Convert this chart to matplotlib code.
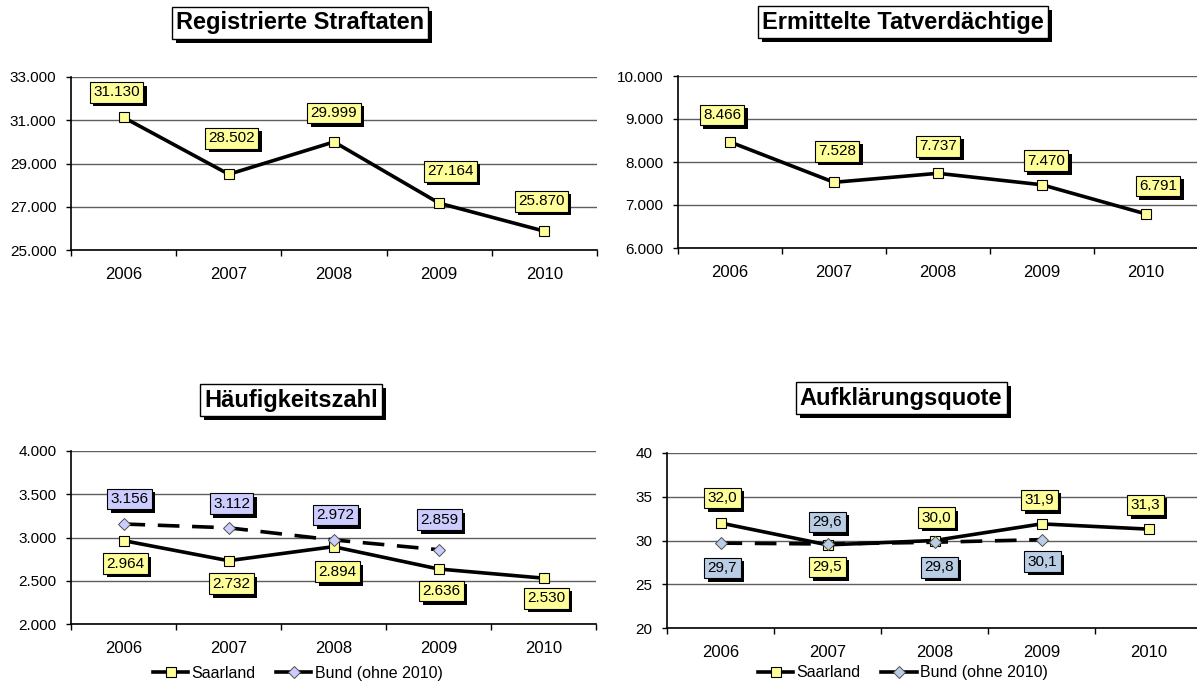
import matplotlib
matplotlib.use("Agg")
import matplotlib.pyplot as plt
import matplotlib.patheffects as pe
from matplotlib.lines import Line2D

plt.rcParams['font.family'] = ['Liberation Sans', 'DejaVu Sans']

years = ['2006', '2007', '2008', '2009', '2010']
straftaten = [31130, 28502, 29999, 27164, 25870]
tatverdaechtige = [8466, 7528, 7737, 7470, 6791]
hz_saarland = [2964, 2732, 2894, 2636, 2530]
hz_bund = [3156, 3112, 2972, 2859]
aq_saarland = [32.0, 29.5, 30.0, 31.9, 31.3]
aq_bund = [29.7, 29.6, 29.8, 30.1]

# label offsets in pixels (dx, dy with dy positive = down)
off_st = [(-7, -25), (3, -36), (0, -29), (11, -32), (-3, -30)]
off_tv = [(-8, -27), (3, -31), (0, -27), (4, -24), (12, -28)]
off_hz_s = [(2, 23), (3, 23), (4, 25), (3, 22), (3, 20)]
off_hz_b = [(6, -25), (3, -24), (2, -25), (1, -30)]
off_aq_s = [(2, -25), (0, 22), (2, -23), (-2, -24), (-3, -24)]
off_aq_b = [(2, 25), (0, -22), (5, 25), (1, 22)]

YELLOW = '#FFFF99'
LAVENDER = '#CCCCFF'
STEEL = '#B9CDE5'

W, H = 1197, 682
fig = plt.figure(figsize=(W / 100, H / 100), dpi=100)


def de_int(v):
    return f"{int(v):,}".replace(",", ".")


def de_dec(v):
    return f"{v:.1f}".replace(".", ",")


def setup(ax, ylim, step, fmt):
    ax.set_xlim(-0.5, 4.5)
    ax.set_ylim(*ylim)
    yt = [ylim[0] + i * step for i in range(int(round((ylim[1] - ylim[0]) / step)) + 1)]
    ax.set_yticks(yt, [fmt(v) for v in yt])
    ax.set_xticks(range(5), years)
    ax.set_xticks([i - 0.5 for i in range(6)], minor=True)
    ax.tick_params(axis='x', which='major', length=0, pad=12, labelsize=12)
    ax.tick_params(axis='x', which='minor', length=4, width=1, direction='out')
    ax.tick_params(axis='y', length=3.5, width=1, pad=7, labelsize=11)
    for s in ['right', 'top']:
        ax.spines[s].set_visible(False)
    for s in ['left', 'bottom']:
        ax.spines[s].set_linewidth(1.2)
    ax.yaxis.grid(True, color='#5e5e5e', linewidth=1)
    ax.set_axisbelow(True)


def label(ax, x, y, text, off, color):
    t = ax.annotate(text, (x, y), xytext=(off[0], -off[1]), textcoords='offset pixels',
                    ha='center', va='center', fontsize=11, zorder=10,
                    bbox=dict(boxstyle='square,pad=0.22', facecolor=color,
                              edgecolor='black', linewidth=0.8))
    t.get_bbox_patch().set_path_effects(
        [pe.SimplePatchShadow(offset=(2.5, -2.5), shadow_rgbFace='black', alpha=1), pe.Normal()])


def title(x, y, text):
    t = fig.text(x / W, 1 - y / H, text, ha='center', va='center', fontsize=17,
                 fontweight='bold',
                 bbox=dict(boxstyle='square,pad=0.18', facecolor='white',
                           edgecolor='black', linewidth=1))
    t.get_bbox_patch().set_path_effects(
        [pe.SimplePatchShadow(offset=(3, -3), shadow_rgbFace='black', alpha=1), pe.Normal()])


def saar_line(ax, vals):
    ax.plot(range(len(vals)), vals, color='black', lw=2.6, marker='s', ms=6.5,
            mfc=YELLOW, mec='black', mew=0.8, zorder=3)


def bund_line(ax, vals, color):
    ax.plot(range(len(vals)), vals, color='black', lw=2.6, ls=(0, (6, 3.5)), marker='D',
            ms=6.5, mfc=color, mec='#505050', mew=0.7, zorder=4)


def legend(ax, color, x, y):
    h = [Line2D([], [], color='black', lw=2.6, marker='s', ms=6.5, mfc=YELLOW, mec='black', mew=0.8),
         Line2D([], [], color='black', lw=2.6, marker='D', ms=6.5, mfc=color, mec='#505050', mew=0.7)]
    ax.legend(h, ['Saarland', 'Bund (ohne 2010)'], loc='center', bbox_to_anchor=(x, y),
              ncol=2, frameon=False, fontsize=11.5, handlelength=2.2, handletextpad=0.2,
              columnspacing=1.3)


# Registrierte Straftaten
ax1 = fig.add_axes([71 / W, 1 - 250 / H, 526 / W, 173 / H])
setup(ax1, (25000, 33000), 2000, de_int)
saar_line(ax1, straftaten)
for i, v in enumerate(straftaten):
    label(ax1, i, v, de_int(v), off_st[i], YELLOW)
title(300, 23, 'Registrierte Straftaten')

# Ermittelte Tatverdächtige
ax2 = fig.add_axes([678 / W, 1 - 248 / H, 520 / W, 172 / H])
setup(ax2, (6000, 10000), 1000, de_int)
saar_line(ax2, tatverdaechtige)
for i, v in enumerate(tatverdaechtige):
    label(ax2, i, v, de_int(v), off_tv[i], YELLOW)
title(903, 22, 'Ermittelte Tatverdächtige')

# Häufigkeitszahl
ax3 = fig.add_axes([71 / W, 1 - 624 / H, 525 / W, 173 / H])
setup(ax3, (2000, 4000), 500, de_int)
saar_line(ax3, hz_saarland)
bund_line(ax3, hz_bund, LAVENDER)
for i, v in enumerate(hz_saarland):
    label(ax3, i, v, de_int(v), off_hz_s[i], YELLOW)
for i, v in enumerate(hz_bund):
    label(ax3, i, v, de_int(v), off_hz_b[i], LAVENDER)
legend(ax3, LAVENDER, 0.432, -0.285)
title(291, 400, 'Häufigkeitszahl')

# Aufklärungsquote
ax4 = fig.add_axes([667 / W, 1 - 628 / H, 535 / W, 175 / H])
setup(ax4, (20, 40), 5, lambda v: str(int(v)))
saar_line(ax4, aq_saarland)
bund_line(ax4, aq_bund, STEEL)
for i, v in enumerate(aq_saarland):
    label(ax4, i, v, de_dec(v), off_aq_s[i], YELLOW)
for i, v in enumerate(aq_bund):
    label(ax4, i, v, de_dec(v), off_aq_b[i], STEEL)
legend(ax4, STEEL, 0.441, -0.257)
title(901, 398, 'Aufklärungsquote')

fig.savefig('out.png', dpi=100)
